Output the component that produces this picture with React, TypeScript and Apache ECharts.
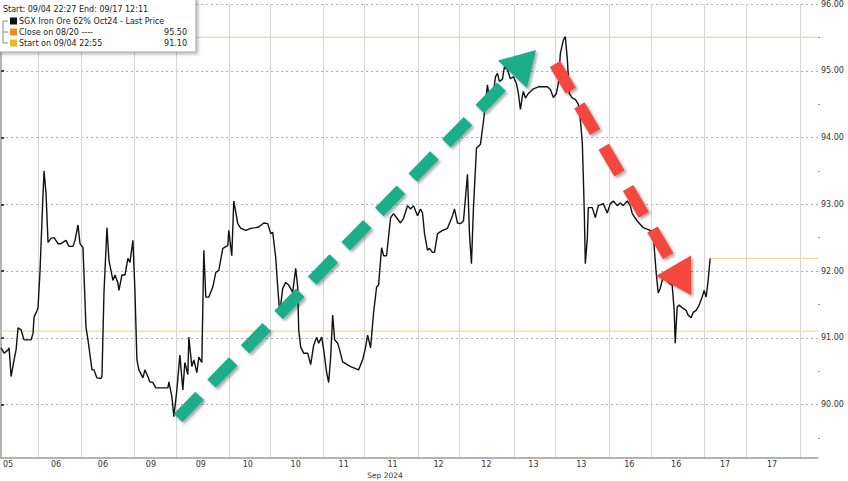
import React, { useEffect, useRef } from "react";
import * as echarts from "echarts";

// ---- data (x = bar index on a gap-free trading-time scale) ----
const BAR_MAX = 818;
const SESSION_BREAKS = [37, 80, 133, 175, 228, 270, 323, 364, 418, 459, 514, 555, 609, 651, 704, 746, 800];
const LABEL_BARS = [7, 55, 102, 150, 200, 247, 295, 343, 392, 438, 486, 533, 581, 629, 676, 725, 772];
const LABEL_DATES = ["05", "06", "06", "09", "09", "10", "10", "11", "11", "12", "12", "13", "13", "16", "16", "17", "17"];
const Y_TICKS = [90, 91, 92, 93, 94, 95, 96];
const Y_HALF_TICKS = [89.5, 90.5, 91.5, 92.5, 93.5, 94.5, 95.5];
const CLOSE_0820 = 95.5;
const START_0904 = 91.1;

const PRICE_BARS = [
  0, 3, 7, 8, 10, 13, 15, 17, 20, 23, 27, 30, 32, 33, 36, 37, 39, 42, 43, 45, 47, 50, 53, 57, 60, 65, 68, 72, 74, 77, 79, 82,
  85, 87, 91, 93, 96, 100, 101, 103, 106, 108, 112, 114, 117, 118, 121, 124,
  127, 129, 132, 134, 136, 138, 142, 144, 147, 149, 152, 155, 167, 168, 171, 173, 176, 179, 182, 184, 187, 188, 191, 193,
  196, 198, 201, 203, 205, 208, 212, 215, 218, 222, 227, 228, 231, 233, 237, 240,
  245, 250, 255, 258, 263, 267, 270, 272, 275, 277, 279, 282, 285, 288, 292, 295, 297, 298, 300, 303, 307, 310, 313, 316,
  318, 321, 323, 326, 328, 330, 332, 334, 337, 339, 342, 350, 358, 362, 365,
  367, 370, 373, 376, 378, 381, 383, 386, 390, 393, 397, 400, 403, 407, 410, 413, 415, 417, 420, 422, 424, 427, 429, 432,
  434, 437, 442, 447, 452, 454, 457, 460, 463, 467, 469, 471, 473, 476, 480,
  483, 485, 487, 490, 493, 495, 497, 499, 502, 504, 507, 510, 513, 516, 518, 520, 522, 523, 525, 528, 533, 538, 547, 550,
  553, 556, 558, 560, 563, 565, 567, 569, 572, 575, 578, 580, 582, 583, 584, 585, 587, 588, 592, 595, 598, 603,
  607, 610, 613, 617, 620, 623, 627, 630, 632, 637, 643, 650, 653, 654, 656, 658, 660, 662, 665, 668, 672, 674, 675, 677,
  679, 683, 686, 688, 691, 693, 696, 699, 702, 704, 706, 708, 710,
];
const PRICES = [
  90.85, 90.77, 90.82, 90.85, 90.42, 90.67, 90.82, 91.15, 91.12, 90.97, 90.97, 90.97, 91.07, 91.31, 91.41, 91.46, 92.01,
  93.16, 93.5, 93.16, 92.43, 92.49, 92.5, 92.41, 92.41, 92.46, 92.37, 92.37, 92.46, 92.69, 92.41, 92.35,
  91.16, 90.97, 90.52, 90.52, 90.4, 90.39, 90.42, 91.67, 92.65, 92.16, 91.86, 91.94, 91.82, 91.71, 91.94, 91.94,
  92.19, 92.13, 92.46, 91.71, 90.67, 90.52, 90.4, 90.52, 90.42, 90.34, 90.33, 90.25, 90.25, 90.34, 90.12, 89.82, 90.22,
  90.74, 90.22, 90.63, 90.45, 91.01, 90.57, 90.67,
  90.48, 90.71, 90.63, 92.31, 91.61, 91.61, 91.76, 91.98, 92.01, 92.34, 92.38, 92.61, 92.23, 93.05, 92.71, 92.64,
  92.61, 92.64, 92.65, 92.66, 92.72, 92.71, 92.56, 92.58, 92.2, 91.76, 91.37, 91.74, 91.83, 91.79, 91.68, 92.04, 91.76,
  91.12, 90.86, 90.77, 90.77, 90.6, 90.89, 91.01,
  90.92, 91.01, 90.82, 90.48, 90.33, 90.71, 91.34, 90.97, 90.92, 90.82, 90.64, 90.57, 90.52, 90.67, 90.86,
  91.04, 90.85, 91.38, 91.76, 91.79, 92.35, 92.23, 92.23, 92.8, 92.86, 92.78, 92.72, 92.79, 92.98, 92.93, 92.98, 92.9,
  92.83, 92.93, 92.87, 92.56, 92.31, 92.34, 92.28,
  92.28, 92.56, 92.61, 92.64, 92.83, 92.93, 92.72, 92.71, 92.75, 93.45, 92.56, 92.11, 92.95, 93.84, 93.9,
  94.24, 94.51, 94.79, 94.47, 94.66, 94.91, 94.96, 94.84, 94.87, 95.06, 95.02, 94.88, 94.91, 94.81, 94.66, 94.42, 94.62,
  94.69, 94.59, 94.66, 94.73, 94.76, 94.76, 94.72,
  94.6, 94.66, 94.81, 95.26, 95.46, 95.51, 95.17, 94.66, 94.59, 94.57, 94.5, 94.27, 93.92, 93.42, 92.87, 92.11, 92.49,
  92.95, 92.95, 92.8, 92.98, 93.01,
  92.87, 93.01, 93.05, 92.98, 93.02, 92.98, 93.05, 92.98, 92.86, 92.75, 92.65, 92.61, 92.58, 92.35, 91.97, 91.67, 91.74,
  91.86, 91.94, 91.83, 91.79, 91.41, 90.92, 91.46,
  91.49, 91.44, 91.41, 91.34, 91.3, 91.38, 91.41, 91.49, 91.61, 91.71, 91.61, 91.86, 92.19,
];

const FONT = "DejaVu Sans";

export default function App() {
  const ref = useRef<HTMLDivElement>(null);

  useEffect(() => {
    if (!ref.current) return;
    const chart = echarts.init(ref.current, null, { renderer: "svg" });
    const priceData = PRICE_BARS.map((b, i) => [b, PRICES[i]]);
    const lastBar = PRICE_BARS[PRICE_BARS.length - 1];
    const lastPrice = PRICES[PRICES.length - 1];

    const shadow = {
      shadowColor: "rgba(0,0,0,0.35)",
      shadowBlur: 3,
      shadowOffsetX: 2,
      shadowOffsetY: 2,
    };

    chart.setOption({
      animation: false,
      backgroundColor: "#ffffff",
      grid: { left: 0, right: 30, top: 2, bottom: 23, containLabel: false },
      xAxis: {
        type: "value",
        min: 0,
        max: BAR_MAX,
        axisLine: { show: true, lineStyle: { color: "#9a9a9a", width: 1.5 } },
        axisTick: { show: true, length: 0, customValues: SESSION_BREAKS, lineStyle: { color: "rgba(0,0,0,0)" } },
        axisLabel: {
          customValues: LABEL_BARS,
          formatter: (v: number) => {
            const i = LABEL_BARS.indexOf(v);
            return i >= 0 ? LABEL_DATES[i] : "";
          },
          fontFamily: FONT,
          fontSize: 8,
          color: "#333",
          margin: 2,
        },
        splitLine: { show: true, lineStyle: { color: "#d6d6d6", width: 1 } },
      },
      yAxis: [
        {
          type: "value",
          position: "right",
          min: 89.2,
          max: 96,
          axisLine: { show: true, lineStyle: { color: "#9a9a9a", width: 1.5 } },
          axisTick: { show: true, customValues: Y_TICKS, length: 3, lineStyle: { color: "#111", width: 1.5 } },
          axisLabel: {
            customValues: Y_TICKS,
            formatter: (v: number) => v.toFixed(2),
            fontFamily: FONT,
            fontSize: 8,
            color: "#333",
            margin: 3,
          },
          splitLine: { show: true, lineStyle: { color: "#aaaaaa", type: [2, 3], width: 1 } },
        },
        {
          type: "value",
          position: "right",
          min: 89.2,
          max: 96,
          axisLine: { show: false },
          axisTick: { show: true, customValues: Y_HALF_TICKS, length: 2, lineStyle: { color: "#999", width: 1 } },
          axisLabel: { show: false },
          splitLine: { show: false },
        },
      ],
      series: [
        {
          type: "line",
          data: [[0, CLOSE_0820], [BAR_MAX, CLOSE_0820]],
          symbol: "none",
          lineStyle: { color: "#f8d3a6", width: 1.2 },
          z: 1,
        },
        {
          type: "line",
          data: [[0, START_0904], [BAR_MAX, START_0904]],
          symbol: "none",
          lineStyle: { color: "#f1da96", width: 1.2 },
          z: 1,
        },
        {
          type: "line",
          data: [[lastBar, lastPrice], [BAR_MAX, lastPrice]],
          symbol: "none",
          lineStyle: { color: "#f1da96", width: 1.2 },
          z: 1,
        },
        {
          type: "line",
          data: priceData,
          symbol: "none",
          lineStyle: { color: "#111", width: 1.4 },
          z: 3,
        },
      ],
      graphic: [
        // green arrow
        {
          type: "line",
          z: 50,
          shape: { x1: 178, y1: 418, x2: 513, y2: 75 },
          style: { stroke: "#1fae8b", lineWidth: 12, lineDash: [31, 17], ...shadow },
        },
        {
          type: "polygon",
          z: 50,
          shape: { points: [[536, 50], [498, 60.5], [527, 88.3]] },
          style: { fill: "#1fae8b", ...shadow },
        },
        // red arrow
        {
          type: "line",
          z: 50,
          shape: { x1: 555, y1: 64, x2: 674, y2: 266 },
          style: { stroke: "#f4473d", lineWidth: 12, lineDash: [31, 17], ...shadow },
        },
        {
          type: "polygon",
          z: 50,
          shape: { points: [[691, 295], [656, 276], [691, 255.5]] },
          style: { fill: "#f4473d", ...shadow },
        },
        // legend box
        {
          type: "rect",
          z: 100,
          shape: { x: -2, y: -2, width: 198, height: 54 },
          style: { fill: "#fff", stroke: "#a0a0a0", lineWidth: 1, shadowColor: "rgba(0,0,0,0.25)", shadowBlur: 3, shadowOffsetX: 2, shadowOffsetY: 2 },
        },
        {
          type: "polyline",
          z: 101,
          shape: { points: [[8, 21], [3, 21], [3, 43], [8, 43]] },
          style: { stroke: "#888", lineWidth: 1, fill: null },
        },
        {
          type: "line",
          z: 101,
          shape: { x1: 3, y1: 32, x2: 8, y2: 32 },
          style: { stroke: "#888", lineWidth: 1 },
        },
        {
          type: "text",
          z: 101,
          x: 3,
          y: 9,
          style: { text: "Start: 09/04 22:27 End: 09/17 12:11", fontFamily: FONT, fontSize: 8, fill: "#222", verticalAlign: "middle" },
        },
        { type: "rect", z: 101, shape: { x: 10, y: 17.5, width: 7, height: 7 }, style: { fill: "#111" } },
        {
          type: "text",
          z: 101,
          x: 19,
          y: 21,
          style: { text: "SGX Iron Ore 62% Oct24 - Last Price", fontFamily: FONT, fontSize: 8, fill: "#222", verticalAlign: "middle" },
        },
        { type: "rect", z: 101, shape: { x: 10, y: 28.5, width: 7, height: 7 }, style: { fill: "#f08a1c" } },
        {
          type: "text",
          z: 101,
          x: 19,
          y: 32,
          style: { text: "Close on 08/20 ----", fontFamily: FONT, fontSize: 8, fill: "#222", verticalAlign: "middle" },
        },
        {
          type: "text",
          z: 101,
          x: 187,
          y: 32,
          style: { text: CLOSE_0820.toFixed(2), fontFamily: FONT, fontSize: 8, fill: "#222", align: "right", verticalAlign: "middle" },
        },
        { type: "rect", z: 101, shape: { x: 10, y: 39.5, width: 7, height: 7 }, style: { fill: "#e9b730" } },
        {
          type: "text",
          z: 101,
          x: 19,
          y: 43,
          style: { text: "Start on 09/04 22:55", fontFamily: FONT, fontSize: 8, fill: "#222", verticalAlign: "middle" },
        },
        {
          type: "text",
          z: 101,
          x: 187,
          y: 43,
          style: { text: START_0904.toFixed(2), fontFamily: FONT, fontSize: 8, fill: "#222", align: "right", verticalAlign: "middle" },
        },
        // axis subtitle
        {
          type: "text",
          z: 101,
          x: 385,
          y: 475,
          style: { text: "Sep 2024", fontFamily: FONT, fontSize: 7.5, fill: "#333", align: "center", verticalAlign: "middle" },
        },
      ],
    });

    return () => chart.dispose();
  }, []);

  return <div ref={ref} style={{ width: 848, height: 481, position: "absolute", left: 0, top: 0 }} />;
}
